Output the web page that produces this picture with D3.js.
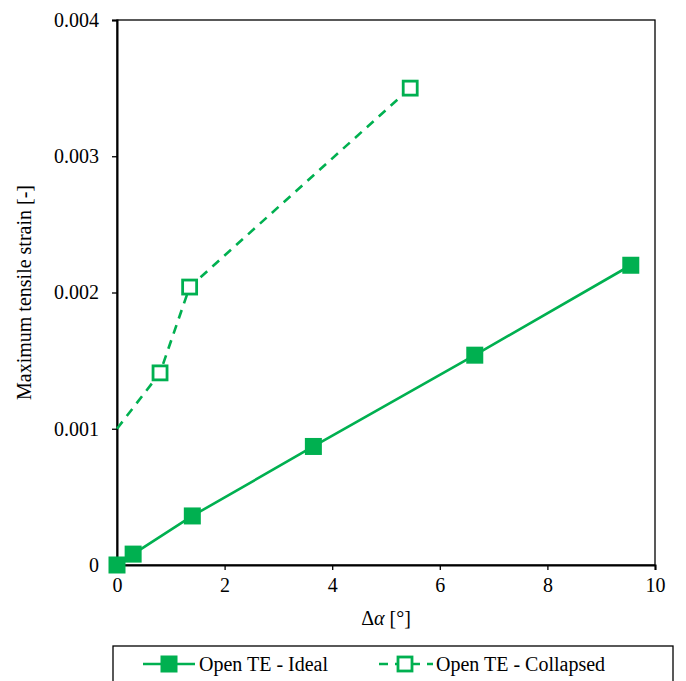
<!DOCTYPE html>
<html>
<head>
<meta charset="utf-8">
<script src="https://cdn.jsdelivr.net/npm/d3@7"></script>
<style>
  body { margin: 0; background: #fff; }
  #chart svg text { font-family: 'Liberation Serif', 'Times New Roman', serif !important; font-size: 20px !important; }
</style>
</head>
<body>
<div id="chart"></div>
<script>
  // Data
  const idealX = [0, 0.3, 1.4, 3.65, 6.65, 9.55];
  const idealY = [0, 0.00008, 0.00036, 0.00087, 0.00154, 0.0022];
  const collapsedX = [0, 0.8, 1.35, 5.45];
  const collapsedY = [0.001, 0.00141, 0.00204, 0.0035];
  const xTicks = [0, 2, 4, 6, 8, 10];
  const yTicks = [0, 0.001, 0.002, 0.003, 0.004];
  const seriesNames = ['Open TE - Ideal', 'Open TE - Collapsed'];

  const width = 686, height = 681;
  const green = '#00b050';
  const serif = 'Liberation Serif';
  const margin = { left: 117, right: 31, top: 20, bottom: 116 };

  const svg = d3.select('#chart')
    .append('svg')
    .attr('width', width)
    .attr('height', height);

  const x = d3.scaleLinear().domain([0, 10]).range([margin.left, width - margin.right]);
  const y = d3.scaleLinear().domain([0, 0.004]).range([height - margin.bottom, margin.top]);

  // Plot frame
  svg.append('rect')
    .attr('x', x(0)).attr('y', y(0.004))
    .attr('width', x(10) - x(0)).attr('height', y(0) - y(0.004))
    .attr('fill', 'none').attr('stroke', '#000').attr('stroke-width', 1.3);

  // Axes
  const xAxis = svg.append('g')
    .attr('transform', `translate(0,${y(0)})`)
    .call(d3.axisBottom(x).tickValues(xTicks).tickSize(5).tickPadding(8).tickFormat(d3.format('d')));
  const yAxis = svg.append('g')
    .attr('transform', `translate(${x(0)},0)`)
    .call(d3.axisLeft(y).tickValues(yTicks).tickSize(5).tickPadding(13).tickFormat(d => d === 0 ? '0' : d3.format('.3f')(d)));

  [xAxis, yAxis].forEach(a => {
    a.attr('font-family', serif).attr('font-size', 20);
    a.select('.domain').attr('stroke', '#000').attr('stroke-width', 2);
    a.selectAll('.tick line').attr('stroke', '#000').attr('stroke-width', 1.3);
    a.selectAll('.tick text').attr('fill', '#000');
  });

  // Axis titles
  const xTitle = svg.append('text')
    .attr('x', (x(0) + x(10)) / 2)
    .attr('y', 625)
    .attr('text-anchor', 'middle');
  xTitle.append('tspan').text('Δ');
  xTitle.append('tspan').attr('font-style', 'italic').text('α');
  xTitle.append('tspan').text(' [°]');

  svg.append('text')
    .attr('transform', `translate(31,${(y(0) + y(0.004)) / 2}) rotate(-90)`)
    .attr('text-anchor', 'middle')
    .text('Maximum tensile strain [-]');

  const line = d3.line().x(d => x(d[0])).y(d => y(d[1]));

  const ideal = idealX.map((v, i) => [v, idealY[i]]);
  const collapsed = collapsedX.map((v, i) => [v, collapsedY[i]]);

  svg.append('path')
    .datum(ideal)
    .attr('d', line)
    .attr('fill', 'none')
    .attr('stroke', green)
    .attr('stroke-width', 2.6);

  svg.append('path')
    .datum(collapsed)
    .attr('d', line)
    .attr('fill', 'none')
    .attr('stroke', green)
    .attr('stroke-width', 2.6)
    .attr('stroke-dasharray', '9,7');

  const filledSize = 17, hollowSize = 14;

  svg.selectAll('.ideal-marker')
    .data(ideal)
    .enter()
    .append('rect')
    .attr('class', 'ideal-marker')
    .attr('x', d => x(d[0]) - filledSize / 2)
    .attr('y', d => y(d[1]) - filledSize / 2)
    .attr('width', filledSize)
    .attr('height', filledSize)
    .attr('fill', green);

  // first collapsed point (on the axis) has no marker
  svg.selectAll('.collapsed-marker')
    .data(collapsed.slice(1))
    .enter()
    .append('rect')
    .attr('class', 'collapsed-marker')
    .attr('x', d => x(d[0]) - hollowSize / 2)
    .attr('y', d => y(d[1]) - hollowSize / 2)
    .attr('width', hollowSize)
    .attr('height', hollowSize)
    .attr('fill', '#fff')
    .attr('stroke', green)
    .attr('stroke-width', 2.8);

  // Legend
  const legend = svg.append('g');
  legend.append('rect')
    .attr('x', 113).attr('y', 646)
    .attr('width', 560).attr('height', 50)
    .attr('fill', '#fff').attr('stroke', '#000').attr('stroke-width', 1.3);

  const ly = 664;
  // Ideal entry
  legend.append('line')
    .attr('x1', 143).attr('x2', 195).attr('y1', ly).attr('y2', ly)
    .attr('stroke', green).attr('stroke-width', 2.6);
  legend.append('rect')
    .attr('x', 169 - filledSize / 2).attr('y', ly - filledSize / 2)
    .attr('width', filledSize).attr('height', filledSize)
    .attr('fill', green);
  legend.append('text')
    .attr('x', 199).attr('y', ly + 7)
    .text(seriesNames[0]);

  // Collapsed entry
  legend.append('line')
    .attr('x1', 379).attr('x2', 433).attr('y1', ly).attr('y2', ly)
    .attr('stroke', green).attr('stroke-width', 2.6)
    .attr('stroke-dasharray', '9,7');
  legend.append('rect')
    .attr('x', 404 - hollowSize / 2 + 1).attr('y', ly - hollowSize / 2)
    .attr('width', hollowSize).attr('height', hollowSize)
    .attr('fill', '#fff').attr('stroke', green).attr('stroke-width', 2.8);
  legend.append('text')
    .attr('x', 436).attr('y', ly + 7)
    .text(seriesNames[1]);

  svg.selectAll('text')
    .attr('font-family', serif)
    .attr('font-size', 20);
</script>
</body>
</html>
